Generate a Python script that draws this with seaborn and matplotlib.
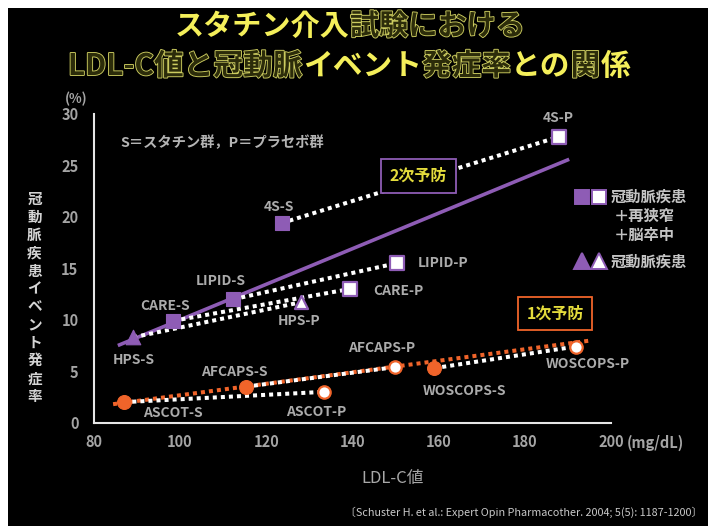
import numpy as np
import pandas as pd
import matplotlib
matplotlib.use("Agg")
import matplotlib.pyplot as plt
import seaborn as sns
from matplotlib import patheffects as pe
from matplotlib.patches import Rectangle

# ---------------- data ----------------
trials = ["4S", "LIPID", "CARE", "HPS", "ASCOT", "AFCAPS", "WOSCOPS"]
prevention = ["2次", "2次", "2次", "2次", "1次", "1次", "1次"]
statin_ldl = [123.6, 112.4, 98.5, 89.2, 87.1, 115.3, 159.0]
statin_rate = [19.4, 12.0, 9.9, 8.3, 2.0, 3.5, 5.3]
placebo_ldl = [188.0, 150.3, 139.5, 128.0, 133.5, 149.9, 191.8]
placebo_rate = [27.8, 15.5, 13.0, 11.7, 3.0, 5.4, 7.4]

sec_trend_ldl = [85.6, 190.3]
sec_trend_rate = [7.5, 25.6]
prim_trend_ldl = [84.5, 195.5]
prim_trend_rate = [1.8, 8.0]

x_ticks = [80, 100, 120, 140, 160, 180, 200]
y_ticks = [0, 5, 10, 15, 20, 25, 30]

# ---------------- styles ----------------
W, H = 708, 526
PURPLE = "#8e5cb5"
ORANGE = "#f0642a"
GRAY = "#ababab"
marker_of = {"4S": "s", "LIPID": "s", "CARE": "s", "HPS": "^",
             "ASCOT": "o", "AFCAPS": "o", "WOSCOPS": "o"}
size_of = {"s": 110, "^": 110, "o": 100}
# label offsets in pixels (dx, dy) relative to marker
label_off = {
    ("4S", "S"): (-3, 16), ("4S", "P"): (-1, 19),
    ("LIPID", "S"): (-13, 18), ("LIPID", "P"): (46, 0),
    ("CARE", "S"): (-8, 15), ("CARE", "P"): (48, -2),
    ("HPS", "S"): (0, -23), ("HPS", "P"): (-2, -19),
    ("ASCOT", "S"): (49, -11), ("ASCOT", "P"): (-8, -20),
    ("AFCAPS", "S"): (-12, 15), ("AFCAPS", "P"): (-13, 19),
    ("WOSCOPS", "S"): (30, -23), ("WOSCOPS", "P"): (12, -17),
}

rows = []
for i, t in enumerate(trials):
    rows.append(dict(trial=t, arm="S", ldl=statin_ldl[i], rate=statin_rate[i], prev=prevention[i]))
    rows.append(dict(trial=t, arm="P", ldl=placebo_ldl[i], rate=placebo_rate[i], prev=prevention[i]))
df = pd.DataFrame(rows)

sns.set_style("dark")
plt.rcParams["font.family"] = ["Noto Sans CJK JP", "DejaVu Sans"]
plt.rcParams["axes.unicode_minus"] = False

fig = plt.figure(figsize=(W / 100, H / 100), dpi=100)
fig.patch.set_facecolor("white")
fig.add_artist(Rectangle((8 / W, 0), 1, 1 - 8 / H, transform=fig.transFigure,
                         facecolor="black", edgecolor="none", zorder=0))


def fx(px):
    return px / W


def fy(py):
    return 1 - py / H


ax = fig.add_axes([fx(93.7), fy(422.7), fx(611) - fx(93.7), fy(114) - fy(422.7)])
ax.set_facecolor("none")

dot = (0, (1, 1))
# trend lines
sns.lineplot(x=sec_trend_ldl, y=sec_trend_rate, ax=ax, color=PURPLE, lw=2.6,
             solid_capstyle="butt", zorder=2)
sns.lineplot(x=prim_trend_ldl, y=prim_trend_rate, ax=ax, color=ORANGE, lw=2.9,
             linestyle=dot, zorder=2)
# statin -> placebo pair lines
sns.lineplot(data=df, x="ldl", y="rate", units="trial", estimator=None, sort=False,
             ax=ax, color="white", lw=2.9, linestyle=dot, zorder=3, legend=False)

# markers
for t in trials:
    sub = df[df.trial == t]
    m = marker_of[t]
    col = PURPLE if sub.prev.iloc[0] == "2次" else ORANGE
    s_row = sub[sub.arm == "S"]
    p_row = sub[sub.arm == "P"]
    sns.scatterplot(data=s_row, x="ldl", y="rate", marker=m, s=size_of[m],
                    color=col, edgecolor=col, linewidth=0.8, ax=ax, zorder=5, legend=False)
    sns.scatterplot(data=p_row, x="ldl", y="rate", marker=m, s=size_of[m] * 0.8,
                    color="white", edgecolor=col, linewidth=1.6, ax=ax, zorder=5, legend=False)
    for _, r in sub.iterrows():
        dx, dy = label_off[(t, r.arm)]
        ax.annotate(f"{t}-{r.arm}", (r.ldl, r.rate), xytext=(dx, dy),
                    textcoords="offset pixels", ha="center", va="center",
                    fontsize=10, color=GRAY, fontweight="bold", zorder=6)

ax.set_xlim(80, 200)
ax.set_ylim(0, 30)
ax.set_xticks(x_ticks)
ax.set_yticks(y_ticks)
ax.set_xlabel("")
ax.set_ylabel("")
ax.grid(False)
for side in ["top", "right"]:
    ax.spines[side].set_visible(False)
for side in ["left", "bottom"]:
    ax.spines[side].set_visible(True)
    ax.spines[side].set_color("#e6e6e6")
    ax.spines[side].set_linewidth(1.5)
ax.tick_params(axis="both", colors="#e6e6e6", labelcolor="#a4a4a4", length=3,
               width=1.3, direction="out", labelsize=10.5)
ax.tick_params(axis="x", pad=5)
ax.tick_params(axis="y", pad=8)
for lab in ax.get_xticklabels() + ax.get_yticklabels():
    lab.set_fontweight("bold")

# boxes
fig.text(fx(418.5), fy(176), "2次予防", ha="center", va="center", fontsize=11.5,
         fontweight="bold", color="#e4dc3c", zorder=10,
         bbox=dict(boxstyle="square,pad=0.55", facecolor="black", edgecolor=PURPLE, linewidth=1.3))
fig.text(fx(555), fy(313.5), "1次予防", ha="center", va="center", fontsize=11.5,
         fontweight="bold", color="#e4dc3c", zorder=10,
         bbox=dict(boxstyle="square,pad=0.55", facecolor="black", edgecolor=ORANGE, linewidth=1.3))

# note
fig.text(fx(120), fy(143), "S＝スタチン群，P＝プラセボ群", ha="left", va="center",
         fontsize=10.3, fontweight="bold", color="#b4b4b4")

# legend (manual)
LEG = "#c4c4c4"
for (px, py, m, face, edge) in [(581.7, 196.7, "s", PURPLE, PURPLE), (598.8, 196.7, "s", "white", PURPLE),
                                (581.7, 261, "^", PURPLE, PURPLE), (598.8, 261, "^", "white", PURPLE)]:
    fig.add_artist(plt.Line2D([fx(px)], [fy(py)], marker=m, markersize=10.5 if m == "s" else 11,
                              markerfacecolor=face, markeredgecolor=edge, markeredgewidth=1.4,
                              linestyle="none", transform=fig.transFigure))
fig.text(fx(611), fy(196.7), "冠動脈疾患", ha="left", va="center", fontsize=11, fontweight="bold", color=LEG)
fig.text(fx(614), fy(216), "＋再狭窄", ha="left", va="center", fontsize=11, fontweight="bold", color=LEG)
fig.text(fx(614), fy(235), "＋脳卒中", ha="left", va="center", fontsize=11, fontweight="bold", color=LEG)
fig.text(fx(611), fy(261.7), "冠動脈疾患", ha="left", va="center", fontsize=11, fontweight="bold", color=LEG)

# axis texts
fig.text(fx(76), fy(99), "(%)", ha="center", va="center", fontsize=9.5, color="#a4a4a4", fontweight="bold")
fig.text(fx(627), fy(443), "(mg/dL)", ha="left", va="center", fontsize=10.5, color="#a4a4a4", fontweight="bold")
fig.text(fx(34.5), fy(297.5), "\n".join("冠動脈疾患イベント発症率"), ha="center", va="center",
         fontsize=10.5, fontweight="bold", color="#d4d4d4", linespacing=1.15)
fig.text(fx(393), fy(478), "LDL-C値", ha="center", va="center", fontsize=12, color="#a8a8a8")
fig.text(fx(702), fy(512), "〔Schuster H. et al.: Expert Opin Pharmacother. 2004; 5(5): 1187-1200〕",
         ha="right", va="center", fontsize=7.8, color="#c8c8c8")

# title with mixed fill / outline styles
renderer = fig.canvas.get_renderer()
FILL = dict(color="#f4ef5a")
OUTL = dict(color="#2c2c0a", path_effects=[pe.withStroke(linewidth=1.3, foreground="#cccc60")])


def chain(segments, cx, base_y, size):
    texts, widths = [], []
    for s, style in segments:
        kw = FILL if style == "f" else OUTL
        t = fig.text(0, 0, s, fontsize=size, fontweight="bold", ha="left", va="baseline", **kw)
        widths.append(t.get_window_extent(renderer).width)
        texts.append(t)
    x = cx - sum(widths) / 2
    for t, w in zip(texts, widths):
        t.set_position((fx(x), fy(base_y)))
        x += w


chain([("スタチン介入", "f"), ("試験における", "o")], 350, 35, 21)
chain([("LDL-C値と冠動脈", "o"), ("イベント", "f"), ("発症率", "o"), ("との", "f"),
       ("関", "o"), ("係", "f")], 349, 75, 21.4)

fig.savefig("out.png", dpi=100, facecolor=fig.get_facecolor())
